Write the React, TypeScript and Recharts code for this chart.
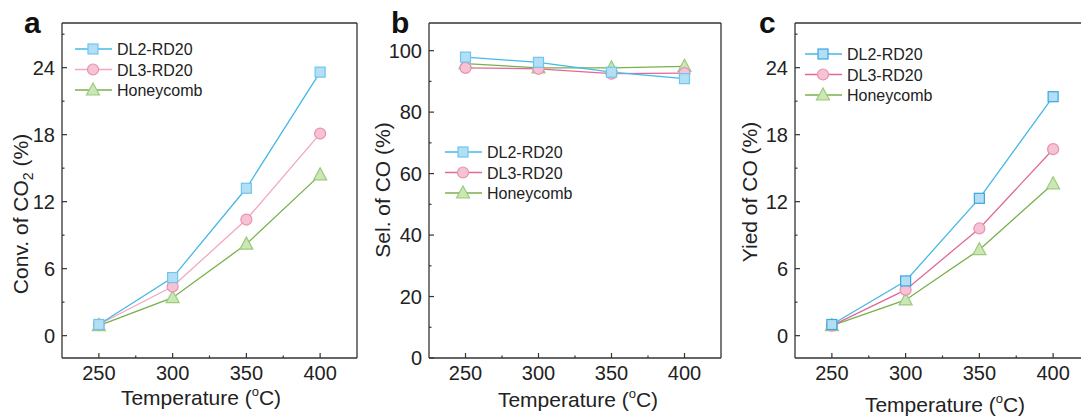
import { LineChart, Line, XAxis, YAxis } from 'recharts';

const temps = [250, 300, 350, 400];

const convDL2 = [1.0, 5.2, 13.2, 23.6];
const convDL3 = [1.0, 4.4, 10.4, 18.1];
const convHoney = [0.9, 3.4, 8.2, 14.4];

const selDL2 = [97.9, 96.2, 93.0, 90.9];
const selDL3 = [94.4, 94.1, 92.5, 92.7];
const selHoney = [95.8, 94.4, 94.4, 94.9];

const yieldDL2 = [1.0, 4.9, 12.3, 21.4];
const yieldDL3 = [0.9, 4.1, 9.6, 16.7];
const yieldHoney = [0.9, 3.2, 7.7, 13.6];

const seriesNames = ['DL2-RD20', 'DL3-RD20', 'Honeycomb'];
const xTicks = [250, 300, 350, 400];
const xMinor = [275, 325, 375];
const pctTicks = [0, 6, 12, 18, 24];
const pctMinor = [3, 9, 15, 21, 27];
const selTicks = [0, 20, 40, 60, 80, 100];
const selMinor = [10, 30, 50, 70, 90];

const FONT = "'Liberation Sans', Arial, sans-serif";
const AXIS = '#333';

const colors = {
  dl2: { line: '#45b8e6', fill: '#b3dff5', stroke: '#6ec6ee' },
  dl3: { line: '#e2689a', fill: '#f6c3d5', stroke: '#e890b0' },
  honey: { line: '#78b04c', fill: '#cde6b5', stroke: '#9acb7c' },
};

function buildRows(a: number[], b: number[], c: number[]) {
  return temps.map((t, i) => ({ t, dl2: a[i], dl3: b[i], honey: c[i] }));
}

const merge = (a: number[], b: number[]) => [...a, ...b].sort((p, q) => p - q);

function Marker({ kind, cx, cy, fill, stroke }: { kind: string; cx: number; cy: number; fill: string; stroke: string }) {
  if (kind === 'square')
    return <rect x={cx - 5} y={cy - 5} width={10} height={10} fill={fill} stroke={stroke} strokeWidth={1.2} />;
  if (kind === 'circle') return <circle cx={cx} cy={cy} r={5.5} fill={fill} stroke={stroke} strokeWidth={1.2} />;
  return (
    <polygon
      points={`${cx},${cy - 7} ${cx - 6.5},${cy + 5} ${cx + 6.5},${cy + 5}`}
      fill={fill}
      stroke={stroke}
      strokeWidth={1.2}
    />
  );
}

function dotFor(kind: string, fill: string, stroke: string) {
  return (p: any) => (
    <Marker key={`${kind}-${p.index}`} kind={kind} cx={p.cx} cy={p.cy} fill={fill} stroke={stroke} />
  );
}

// inward tick marks drawn by hand; labels only on the major ticks
function xTick(major: number[]) {
  return (p: any) => {
    const v = p.payload.value;
    const big = major.includes(v);
    return (
      <g>
        <line x1={p.x} x2={p.x} y1={p.y} y2={p.y - (big ? 5 : 2.5)} stroke={AXIS} strokeWidth={1.2} />
        {big && (
          <text x={p.x} y={p.y + 22} textAnchor="middle" fontSize={20} fill="#222" fontFamily={FONT}>
            {v}
          </text>
        )}
      </g>
    );
  };
}

function yTick(major: number[]) {
  return (p: any) => {
    const v = p.payload.value;
    const big = major.includes(v);
    return (
      <g>
        <line x1={p.x} x2={p.x + (big ? 5 : 2.5)} y1={p.y} y2={p.y} stroke={AXIS} strokeWidth={1.2} />
        {big && (
          <text x={p.x - 7} y={p.y + 7} textAnchor="end" fontSize={20} fill="#222" fontFamily={FONT}>
            {v}
          </text>
        )}
      </g>
    );
  };
}

interface PanelProps {
  left: number;
  width: number;
  margin: { top: number; right: number; bottom: number; left: number };
  rows: { t: number; dl2: number; dl3: number; honey: number }[];
  yDomain: [number, number];
  yTicks: number[];
  yMinor: number[];
  dl3Line?: string;
  dl2Stroke?: string;
}

function Panel({ left, width, margin, rows, yDomain, yTicks, yMinor, dl3Line, dl2Stroke }: PanelProps) {
  return (
    <div style={{ position: 'absolute', left, top: 0 }}>
      <LineChart width={width} height={419} data={rows} margin={margin}>
        <XAxis
          dataKey="t"
          type="number"
          domain={[225, 425]}
          ticks={merge(xTicks, xMinor)}
          interval={0}
          height={1}
          tickSize={0}
          tickMargin={0}
          tickLine={false}
          tick={xTick(xTicks)}
          stroke={AXIS}
          strokeWidth={1.3}
        />
        <XAxis xAxisId="top" orientation="top" dataKey="t" type="number" domain={[225, 425]} height={1} tick={false} tickLine={false} stroke={AXIS} strokeWidth={1.3} />
        <YAxis
          type="number"
          domain={yDomain}
          ticks={merge(yTicks, yMinor)}
          interval={0}
          width={1}
          tickSize={0}
          tickMargin={0}
          tickLine={false}
          tick={yTick(yTicks)}
          stroke={AXIS}
          strokeWidth={1.3}
        />
        <YAxis yAxisId="right" orientation="right" type="number" domain={yDomain} width={1} tick={false} tickLine={false} stroke={AXIS} strokeWidth={1.3} />
        <Line
          dataKey="honey"
          stroke={colors.honey.line}
          strokeWidth={1.3}
          dot={dotFor('triangle', colors.honey.fill, colors.honey.stroke)}
          activeDot={false}
          isAnimationActive={false}
        />
        <Line
          dataKey="dl3"
          stroke={dl3Line ?? colors.dl3.line}
          strokeWidth={1.3}
          dot={dotFor('circle', colors.dl3.fill, colors.dl3.stroke)}
          activeDot={false}
          isAnimationActive={false}
        />
        <Line
          dataKey="dl2"
          stroke={colors.dl2.line}
          strokeWidth={1.3}
          dot={dotFor('square', colors.dl2.fill, dl2Stroke ?? colors.dl2.stroke)}
          activeDot={false}
          isAnimationActive={false}
        />
      </LineChart>
    </div>
  );
}

function LegendBlock({ x, y, dl3Line, dl2Stroke }: { x: number; y: number; dl3Line?: string; dl2Stroke?: string }) {
  const items = [
    { name: seriesNames[0], kind: 'square', c: colors.dl2, line: colors.dl2.line, stroke: dl2Stroke ?? colors.dl2.stroke },
    { name: seriesNames[1], kind: 'circle', c: colors.dl3, line: dl3Line ?? colors.dl3.line, stroke: colors.dl3.stroke },
    { name: seriesNames[2], kind: 'triangle', c: colors.honey, line: colors.honey.line, stroke: colors.honey.stroke },
  ];
  return (
    <g>
      {items.map((it, i) => {
        const cy = y + i * 20.5;
        return (
          <g key={it.name}>
            <line x1={x} x2={x + 37} y1={cy} y2={cy} stroke={it.line} strokeWidth={1.4} />
            <Marker kind={it.kind} cx={x + 18} cy={cy} fill={it.c.fill} stroke={it.stroke} />
            <text x={x + 42} y={cy + 6} fontSize={16} fill="#222" fontFamily={FONT}>
              {it.name}
            </text>
          </g>
        );
      })}
    </g>
  );
}

function TempTitle({ cx, cy }: { cx: number; cy: number }) {
  return (
    <text x={cx} y={cy + 7} textAnchor="middle" fontSize={21} fill="#222" fontFamily={FONT}>
      Temperature (<tspan fontSize={13} dy={-9}>o</tspan>
      <tspan dy={9}>C)</tspan>
    </text>
  );
}

export default function App() {
  const dl3LightA = '#f0a8c0';
  const dl2StrongC = '#3aa6df';
  return (
    <div style={{ position: 'absolute', left: 0, top: 0, width: 1081, height: 419, overflow: 'hidden', background: '#fff' }}>
      <Panel
        left={0}
        width={360}
        margin={{ top: 22, right: 2, bottom: 60, left: 61 }}
        rows={buildRows(convDL2, convDL3, convHoney)}
        yDomain={[-2, 28]}
        yTicks={pctTicks}
        yMinor={pctMinor}
        dl3Line={dl3LightA}
      />
      <Panel
        left={360}
        width={365}
        margin={{ top: 22, right: 3, bottom: 60, left: 68 }}
        rows={buildRows(selDL2, selDL3, selHoney)}
        yDomain={[0, 109]}
        yTicks={selTicks}
        yMinor={selMinor}
      />
      <Panel
        left={725}
        width={400}
        margin={{ top: 22, right: 34, bottom: 60, left: 69 }}
        rows={buildRows(yieldDL2, yieldDL3, yieldHoney)}
        yDomain={[-2, 28]}
        yTicks={pctTicks}
        yMinor={pctMinor}
        dl2Stroke={dl2StrongC}
      />
      <svg width={1081} height={419} style={{ position: 'absolute', left: 0, top: 0, pointerEvents: 'none' }}>
        <text x={24} y={33} fontSize={30} fontWeight="bold" fill="#111" fontFamily={FONT}>a</text>
        <text x={391} y={33} fontSize={30} fontWeight="bold" fill="#111" fontFamily={FONT}>b</text>
        <text x={759} y={33} fontSize={30} fontWeight="bold" fill="#111" fontFamily={FONT}>c</text>

        <text transform="translate(28,214) rotate(-90)" textAnchor="middle" fontSize={21} fill="#222" fontFamily={FONT}>
          Conv. of CO<tspan fontSize={14} dy={5}>2</tspan>
          <tspan dy={-5}> (%)</tspan>
        </text>
        <text transform="translate(390,190) rotate(-90)" textAnchor="middle" fontSize={21} fill="#222" fontFamily={FONT}>
          Sel. of CO (%)
        </text>
        <text transform="translate(757,192) rotate(-90)" textAnchor="middle" fontSize={21} fill="#222" fontFamily={FONT}>
          Yied of CO (%)
        </text>

        <TempTitle cx={201} cy={398} />
        <TempTitle cx={578} cy={400} />
        <TempTitle cx={945} cy={405} />

        <LegendBlock x={75} y={49} dl3Line={dl3LightA} />
        <LegendBlock x={445} y={152} />
        <LegendBlock x={805} y={54} dl2Stroke={dl2StrongC} />
      </svg>
    </div>
  );
}
